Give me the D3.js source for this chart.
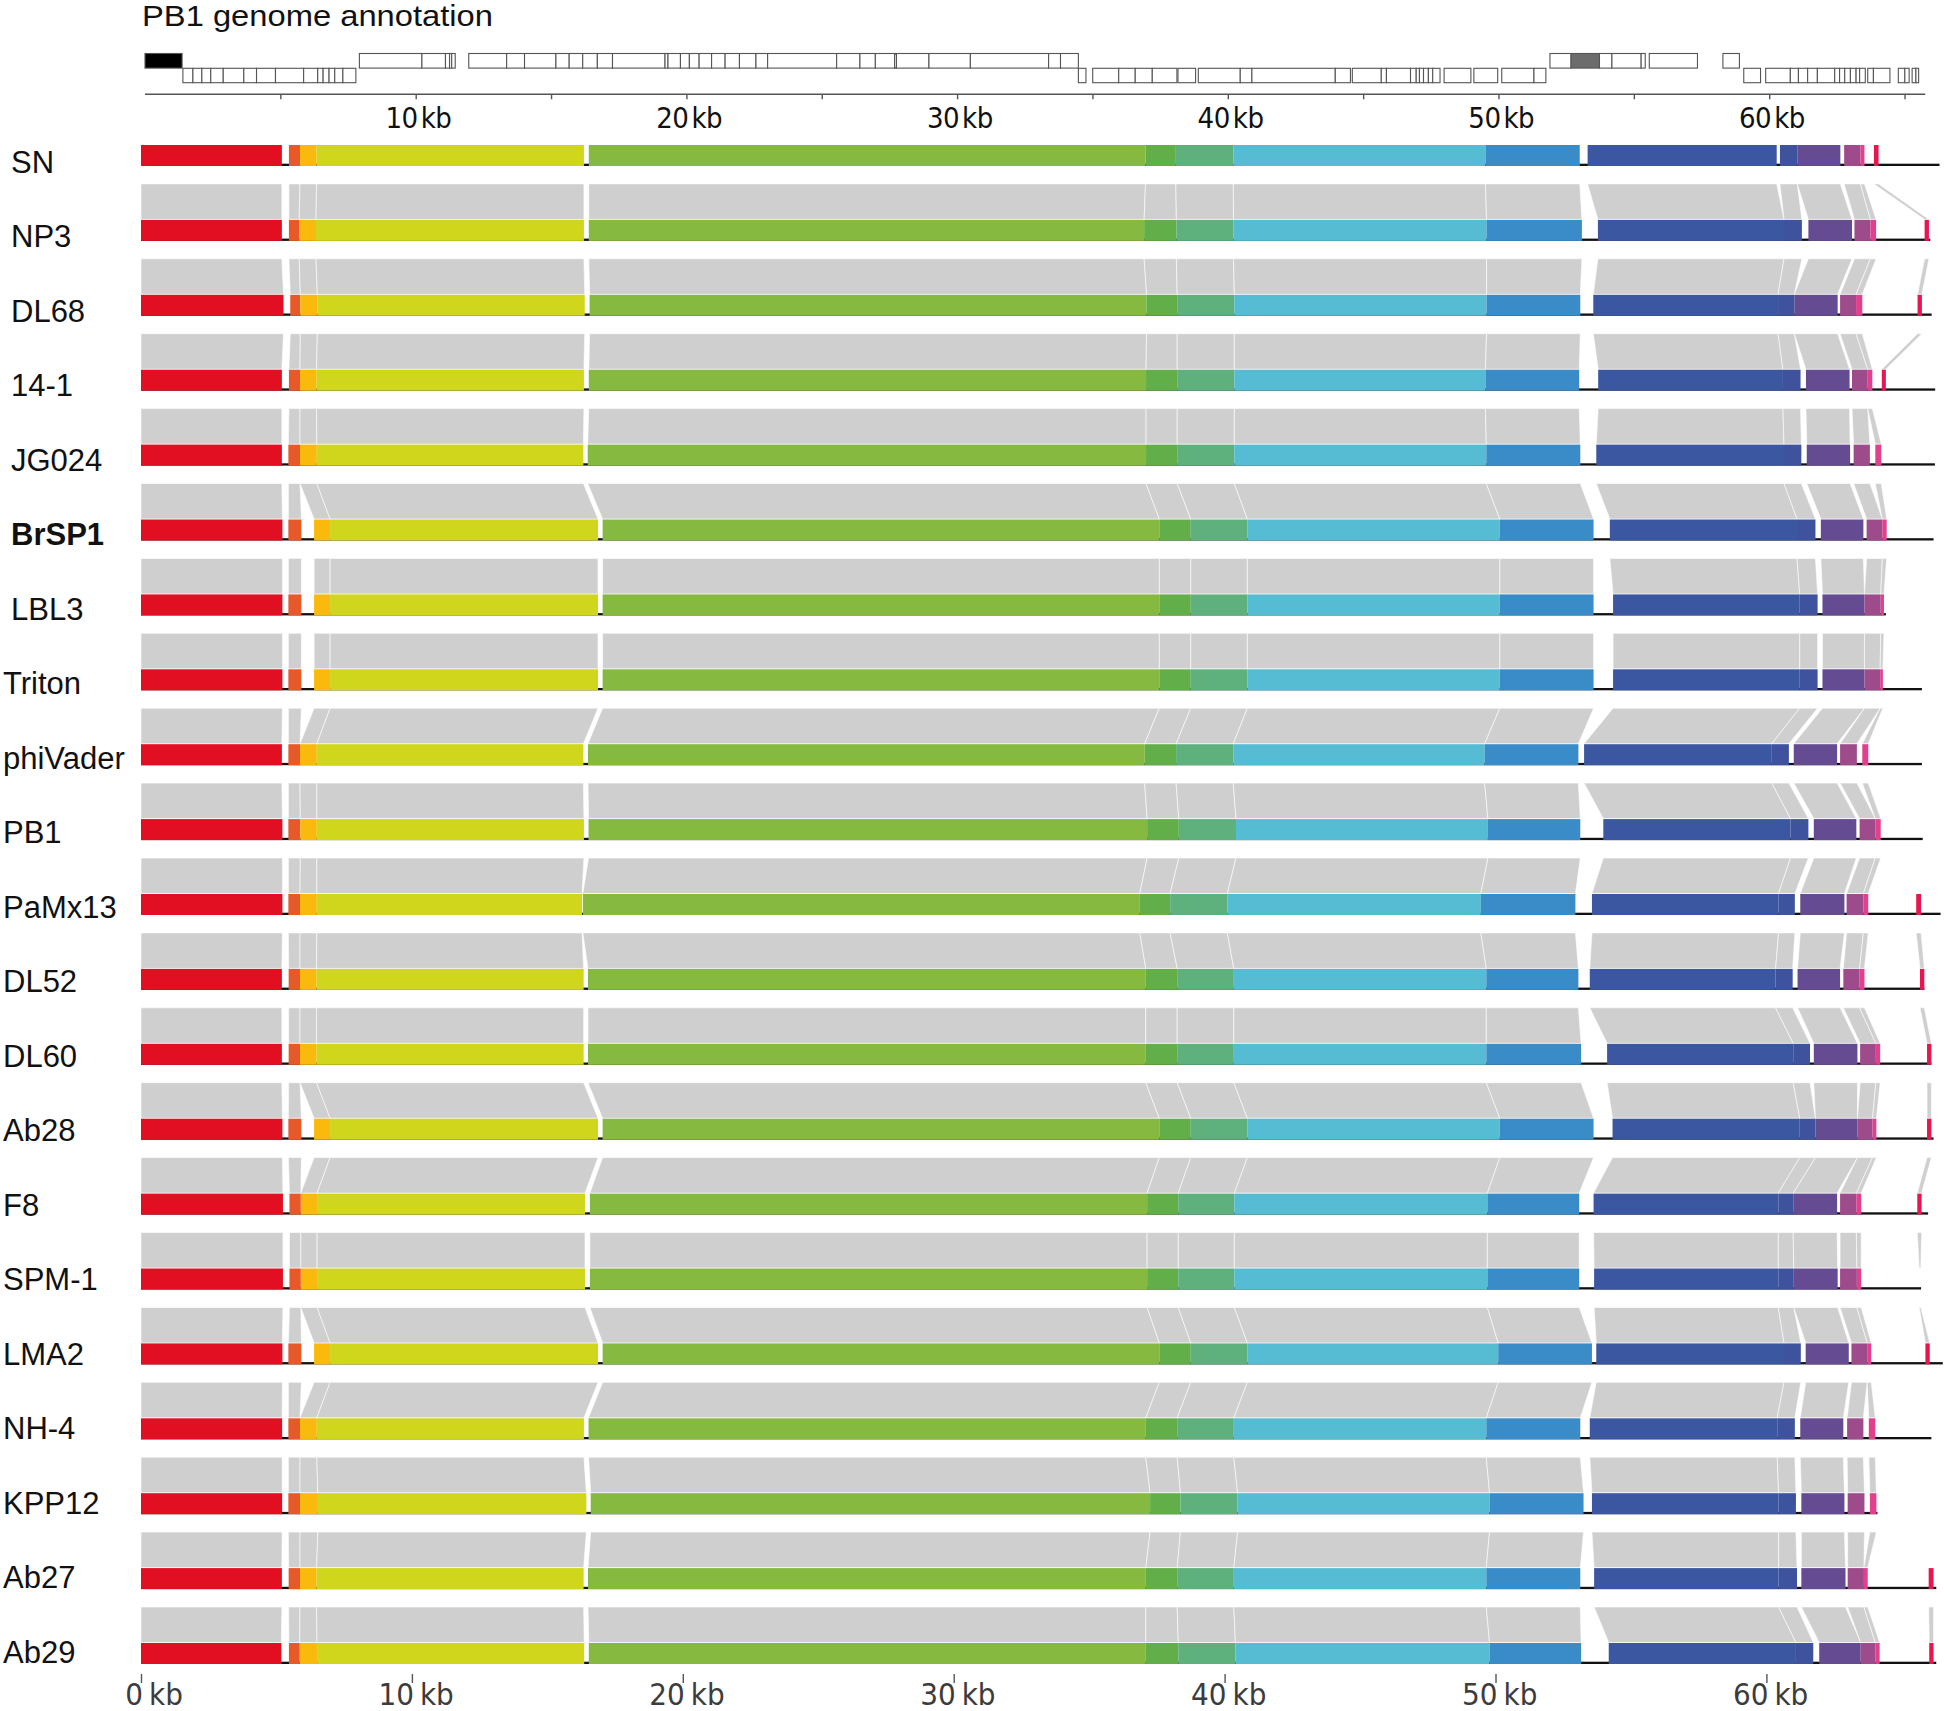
<!DOCTYPE html>
<html><head><meta charset="utf-8">
<script src="https://cdn.jsdelivr.net/npm/d3@7"></script>
<style>body{margin:0;background:#fff}svg{display:block}</style>
</head><body>
<svg id="c" width="1946" height="1711"></svg>
<script>
// ---------------- DATA ----------------
const genomeNames = ["SN","NP3","DL68","14-1","JG024","BrSP1","LBL3","Triton","phiVader","PB1","PaMx13","DL52","DL60","Ab28","F8","SPM-1","LMA2","NH-4","KPP12","Ab27","Ab29"];
const boldNames = ["BrSP1"];
const genomeLengths = [66.39,66.05,66.10,66.23,66.22,66.17,64.41,65.74,65.74,65.77,66.43,65.83,66.09,66.17,65.97,65.71,66.51,66.09,64.10,66.27,66.27];

// collinear block colours (block index 0..14)
const blockColors = ["#e20e21","#e8592a","#f9b90d","#cfd61b","#86b940","#62ae48","#5eb07d","#56bcd3","#3a8cc8","#3b57a1","#3e529e","#644b92","#9e4b8b","#e2408d","#e8164f"];

// block intervals per genome [start kb, end kb] (null = absent)
const blocksSN     = [[0,5.2],[5.46,5.87],[5.87,6.48],[6.48,16.35],[16.53,37.08],[37.08,38.20],[38.20,40.32],[40.32,49.63],[49.63,53.11],[53.40,60.38],[60.50,61.14],[61.14,62.73],[62.87,63.47],[63.47,63.62],[63.97,64.14]];
const blocksNP3    = [[0,5.2],[5.46,5.84],[5.84,6.46],[6.46,16.35],[16.53,37.03],[37.03,38.22],[38.22,40.33],[40.33,49.67],[49.67,53.19],[53.78,60.65],[60.65,61.31],[61.55,63.16],[63.25,63.84],[63.84,64.05],[65.84,66.00]];
const blocksDL68   = [[0,5.26],[5.51,5.88],[5.88,6.51],[6.51,16.38],[16.56,37.12],[37.12,38.25],[38.25,40.36],[40.36,49.67],[49.67,53.13],[53.61,60.43],[60.43,61.03],[61.03,62.63],[62.72,63.31],[63.31,63.54],[65.58,65.74]];
const blocks14_1   = [[0,5.2],[5.46,5.87],[5.87,6.48],[6.48,16.35],[16.53,37.10],[37.10,38.25],[38.25,40.36],[40.36,49.63],[49.63,53.09],[53.79,60.61],[60.61,61.26],[61.46,63.07],[63.16,63.74],[63.74,63.91],[64.26,64.41]];
const blocksJG024  = [[0,5.2],[5.44,5.87],[5.87,6.49],[6.49,16.33],[16.49,37.10],[37.10,38.25],[38.25,40.36],[40.36,49.66],[49.66,53.13],[53.72,60.65],[60.65,61.29],[61.49,63.09],[63.22,63.82],[64.02,64.24],null];
const blocksBrSP1  = [[0,5.22],[5.44,5.92],[6.39,6.98],[6.98,16.87],[17.04,37.59],[37.59,38.75],[38.75,40.84],[40.84,50.16],[50.16,53.62],[54.22,61.13],[61.13,61.81],[62.01,63.58],[63.70,64.28],[64.28,64.44],null];
const blocksLBL3   = [[0,5.22],[5.44,5.92],[6.39,6.98],[6.98,16.87],[17.04,37.59],[37.59,38.75],[38.75,40.84],[40.84,50.16],[50.16,53.62],[54.34,61.23],[61.23,61.89],[62.07,63.62],[63.62,64.22],[64.22,64.34],null];
const blocksTriton = [[0,5.22],[5.44,5.92],[6.39,6.98],[6.98,16.87],[17.04,37.59],[37.59,38.75],[38.75,40.84],[40.84,50.16],[50.16,53.62],[54.34,61.23],[61.23,61.89],[62.07,63.62],[63.62,64.20],[64.20,64.30],null];
const blocksPhiVader=[[0,5.2],[5.44,5.87],[5.87,6.49],[6.49,16.33],[16.50,37.05],[37.05,38.21],[38.21,40.32],[40.32,49.60],[49.60,53.06],[53.27,60.20],[60.20,60.83],[61.01,62.61],[62.72,63.34],[63.54,63.76],null];
const blocksPB1    = [[0,5.22],[5.44,5.88],[5.88,6.49],[6.49,16.35],[16.52,37.14],[37.14,38.31],[38.31,40.42],[40.42,49.72],[49.72,53.13],[53.98,60.89],[60.89,61.55],[61.75,63.32],[63.44,64.02],[64.02,64.22],null];
const blocksPaMx13 = [[0,5.22],[5.44,5.87],[5.87,6.49],[6.49,16.28],[16.31,36.87],[36.87,37.99],[37.99,40.10],[40.10,49.46],[49.46,52.95],[53.56,60.45],[60.45,61.05],[61.25,62.88],[62.96,63.58],[63.58,63.76],[65.53,65.71]];
const blocksDL52   = [[0,5.2],[5.45,5.87],[5.87,6.48],[6.48,16.34],[16.50,37.09],[37.09,38.25],[38.25,40.34],[40.34,49.66],[49.66,53.06],[53.48,60.34],[60.34,60.97],[61.15,62.72],[62.84,63.44],[63.44,63.62],[65.67,65.83]];
const blocksDL60   = [[0,5.2],[5.45,5.87],[5.87,6.48],[6.48,16.34],[16.50,37.09],[37.09,38.25],[38.25,40.34],[40.34,49.66],[49.66,53.16],[54.12,60.99],[60.99,61.61],[61.75,63.36],[63.46,64.04],[64.04,64.20],[65.93,66.09]];
const blocksAb28   = [[0,5.22],[5.44,5.92],[6.39,6.98],[6.98,16.87],[17.04,37.59],[37.59,38.75],[38.75,40.84],[40.84,50.16],[50.16,53.62],[54.32,61.23],[61.23,61.81],[61.81,63.36],[63.36,63.92],[63.92,64.06],[65.93,66.09]];
const blocksF8     = [[0,5.24],[5.48,5.90],[5.90,6.50],[6.50,16.39],[16.57,37.14],[37.14,38.29],[38.29,40.36],[40.36,49.70],[49.70,53.09],[53.62,60.44],[60.44,60.99],[60.99,62.61],[62.72,63.32],[63.32,63.50],[65.57,65.73]];
const blocksSPM1   = [[0,5.24],[5.48,5.90],[5.90,6.50],[6.50,16.39],[16.57,37.14],[37.14,38.29],[38.29,40.36],[40.36,49.70],[49.70,53.09],[53.64,60.44],[60.44,61.01],[61.01,62.63],[62.72,63.34],[63.34,63.50],[65.64,65.70]];
const blocksLMA2   = [[0,5.22],[5.44,5.92],[6.39,6.98],[6.98,16.87],[17.04,37.59],[37.59,38.75],[38.75,40.84],[40.84,50.10],[50.10,53.56],[53.72,60.65],[60.65,61.27],[61.45,63.04],[63.14,63.72],[63.72,63.87],[65.87,66.03]];
const blocksNH4    = [[0,5.21],[5.44,5.87],[5.87,6.49],[6.49,16.35],[16.52,37.09],[37.09,38.25],[38.25,40.34],[40.34,49.66],[49.66,53.13],[53.48,60.40],[60.40,61.05],[61.25,62.84],[62.98,63.58],[63.78,64.02],null];
const blocksKPP12  = [[0,5.21],[5.44,5.87],[5.87,6.53],[6.53,16.44],[16.60,37.25],[37.25,38.37],[38.37,40.48],[40.48,49.78],[49.78,53.25],[53.56,60.45],[60.45,61.09],[61.29,62.88],[63.00,63.62],[63.82,64.06],null];
const blocksAb27   = [[0,5.2],[5.45,5.87],[5.87,6.48],[6.48,16.34],[16.50,37.09],[37.09,38.25],[38.25,40.34],[40.34,49.66],[49.66,53.13],[53.64,60.45],[60.45,61.13],[61.29,62.92],[63.00,63.60],[63.60,63.74],[65.99,66.17]];
const blocksAb29   = [[0,5.18],[5.46,5.86],[5.86,6.50],[6.50,16.36],[16.53,37.09],[37.09,38.29],[38.29,40.40],[40.40,49.78],[49.78,53.16],[54.18,61.09],[61.09,61.73],[61.95,63.48],[63.48,64.02],[64.02,64.18],[66.01,66.17]];
const genomeBlocks = [blocksSN,blocksNP3,blocksDL68,blocks14_1,blocksJG024,blocksBrSP1,blocksLBL3,blocksTriton,blocksPhiVader,blocksPB1,blocksPaMx13,blocksDL52,blocksDL60,blocksAb28,blocksF8,blocksSPM1,blocksLMA2,blocksNH4,blocksKPP12,blocksAb27,blocksAb29];
// blocks matched but not coloured: [genome index, block index]
const unfilledBlocks = [[15,14]];

// PB1 annotation: runs of consecutive gene boundaries (kb)
const genesForward = [
  [0,1.37],
  [7.92,10.23,11.10,11.25,11.33,11.46],
  [11.96,13.36,14.02,15.18,15.67,16.17,16.71,17.27,19.21,19.32,19.78,20.11,20.47,20.93,21.43,21.96,22.57,23.00,25.55,26.41,26.98,27.69,27.76,28.96,30.49,33.38,33.82,34.48],
  [51.90,52.68,53.73,54.19,55.27,55.42],
  [55.57,57.35],
  [58.29,58.90]
];
const genesReverse = [
  [1.40,1.77,2.10,2.43,2.89,3.65,4.12,4.82,5.86,6.38,6.58,6.80,7.01,7.31,7.79],
  [34.48,34.76],
  [35.01,35.97,36.58,37.21,38.12],
  [38.16,38.81],
  [38.91,40.46,40.89,43.97,44.53],
  [44.60,45.67,45.86,46.75,46.96,47.08,47.23,47.41,47.57,47.84],
  [47.99,48.98],
  [49.09,49.97],
  [50.12,51.31,51.75],
  [59.06,59.68],
  [59.87,60.78,61.08,61.42,61.78,62.42,62.60,62.79,63.00,63.21,63.34,63.55],
  [63.64,63.85,64.46],
  [64.77,65.01,65.17],
  [65.28,65.42,65.52]
];
const filledGenes = [{start:0, fill:"#000"}, {start:52.68, fill:"#6c6c6c"}];
const pb1Length = 65.764;
const topTicks = [5,10,15,20,25,30,35,40,45,50,55,60,65];
const topTickLabels = [10,20,30,40,50,60];
const bottomTicks = [0,10,20,30,40,50,60];

// ---------------- DRAW ----------------
const svg = d3.select("#c");
const x = d3.scaleLinear().domain([0,60]).range([141,1766.4]);
const xTop = d3.scaleLinear().domain([0,60]).range([145,1769.2]);
const rowY = d3.scaleLinear().domain([0,20]).range([145,1643]);
const labelY = d3.scaleLinear().domain([0,20]).range([172.5,1663]);
const barH = 21;
const bandColor = "#d0cfcf";

// title
svg.append("text").attr("x",142).attr("y",26)
  .attr("font-family","Liberation Sans, Arial, sans-serif").attr("font-size",30)
  .attr("fill","#111").attr("textLength",351).attr("lengthAdjust","spacingAndGlyphs")
  .text("PB1 genome annotation");

// gene map
const gmap = svg.append("g");
function drawRuns(runs, y0, h, fwd){
  runs.forEach(run=>{
    for(let k=0;k<run.length-1;k++){
      const f = fwd ? filledGenes.find(g=>Math.abs(g.start-run[k])<1e-6) : null;
      gmap.append("rect").attr("x",xTop(run[k])).attr("y",y0)
        .attr("width",xTop(run[k+1])-xTop(run[k])).attr("height",h)
        .attr("fill",f?f.fill:"#fff").attr("stroke","#555").attr("stroke-width",1.1);
    }
  });
}
drawRuns(genesForward,53.5,14.6,true);
drawRuns(genesReverse,68.3,14.4,false);

// top axis
const topAxis = svg.append("g").attr("transform","translate(0,94.3)");
topAxis.call(d3.axisBottom(xTop).tickValues(topTicks).tickSize(5).tickSizeOuter(0).tickFormat(""));
topAxis.select(".domain").remove();
topAxis.selectAll(".tick line").attr("stroke","#555").attr("stroke-width",1.4);
topAxis.append("line").attr("x1",xTop(0)).attr("x2",xTop(pb1Length)).attr("y1",0).attr("y2",0)
  .attr("stroke","#555").attr("stroke-width",1.4);
const tl = topAxis.selectAll("g.tlab").data(topTickLabels).join("g").attr("class","tlab")
  .attr("transform",d=>`translate(${xTop(d)},0)`);
tl.append("text").attr("x",2).attr("y",34).attr("text-anchor","end").attr("letter-spacing",-0.5).text(d=>d);
tl.append("text").attr("x",5).attr("y",34).attr("text-anchor","start").attr("letter-spacing",-0.5).text("kb");
tl.selectAll("text").attr("font-family","Liberation Sans Narrow, Arial Narrow, DejaVu Sans Condensed, sans-serif")
  .attr("font-size",29).attr("fill","#111");

// gray synteny bands
const bands = svg.append("g");
for(let i=1;i<genomeBlocks.length;i++){
  const prev = genomeBlocks[i-1], cur = genomeBlocks[i];
  const yT = rowY(i)-36, yB = rowY(i)-0.5;
  cur.forEach((b,k)=>{
    const p = prev[k];
    if(!b||!p) return;
    bands.append("path")
      .attr("d",`M${x(p[0])},${yT}L${x(p[1])},${yT}L${x(b[1])},${yB}L${x(b[0])},${yB}Z`)
      .attr("fill",bandColor).attr("stroke","#fff").attr("stroke-width",0.7).attr("stroke-opacity",0.85);
  });
}

// genome rows
const rows = svg.append("g");
genomeBlocks.forEach((blocks,i)=>{
  const y0 = rowY(i);
  const g = rows.append("g");
  g.append("rect").attr("x",x(0)).attr("y",y0+barH-2.3).attr("width",x(genomeLengths[i])-x(0)).attr("height",2.3).attr("fill","#111");
  blocks.forEach((b,k)=>{
    if(!b) return;
    if(unfilledBlocks.some(u=>u[0]===i&&u[1]===k)) return;
    g.append("rect").attr("x",x(b[0])).attr("y",y0).attr("width",Math.max(0.8,x(b[1])-x(b[0]))).attr("height",barH)
      .attr("fill",blockColors[k]);
  });
  const name = genomeNames[i];
  g.append("text").attr("x",i<7?11:3).attr("y",labelY(i))
    .attr("font-family","Liberation Sans, Arial, sans-serif").attr("font-size",31)
    .attr("font-weight",boldNames.includes(name)?"bold":"normal").attr("fill","#111").text(name);
});

// bottom axis
const bAxis = svg.append("g").attr("transform","translate(0,1674)");
bAxis.call(d3.axisBottom(x).tickValues(bottomTicks).tickSize(9).tickSizeOuter(0).tickFormat(""));
bAxis.select(".domain").remove();
bAxis.selectAll(".tick line").attr("stroke","#555").attr("stroke-width",1.4);
const bl = bAxis.selectAll("g.blab").data(bottomTicks).join("g").attr("class","blab")
  .attr("transform",d=>`translate(${x(d)},0)`);
bl.append("text").attr("x",2).attr("y",30.5).attr("text-anchor","end").text(d=>d);
bl.append("text").attr("x",8).attr("y",30.5).attr("text-anchor","start").text("kb");
bl.selectAll("text").attr("font-family","Liberation Sans Narrow, Arial Narrow, DejaVu Sans Condensed, sans-serif")
  .attr("font-size",31).attr("fill","#3c3c3c");
</script>
</body></html>
